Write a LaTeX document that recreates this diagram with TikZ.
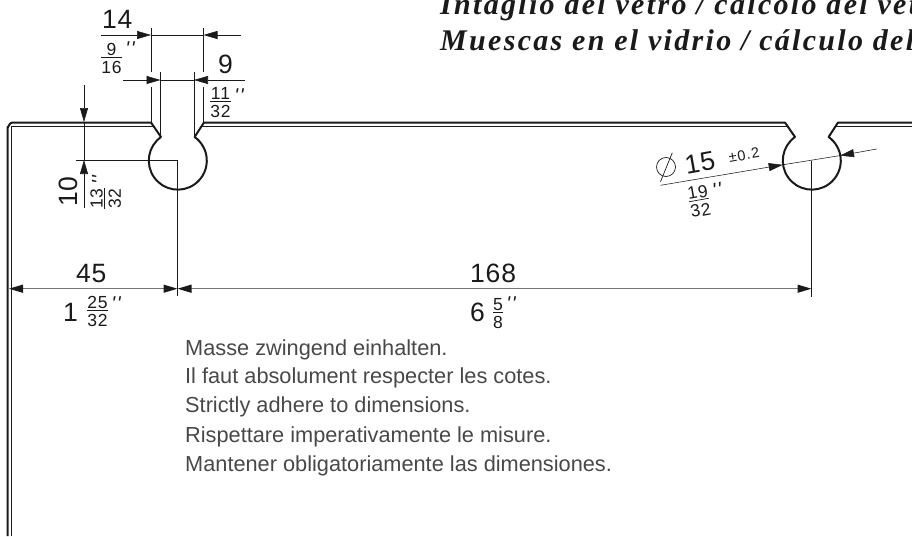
\documentclass[tikz,border=0pt]{standalone}
\usepackage{fontspec}
\usetikzlibrary{arrows.meta}
\setmainfont{Liberation Sans}
\newfontfamily\plainf{Liberation Sans}
\newfontfamily\titlef[LetterSpace=7.7]{Liberation Serif}
\definecolor{ink}{HTML}{1A1A1A}
\newcommand\fr[2]{{\renewcommand\arraystretch{0.3}\setlength\arrayrulewidth{0.7pt}\setlength\tabcolsep{0pt}\begin{tabular}{c}\rule{0pt}{15pt}#1\\\hline\rule{0pt}{16pt}#2\end{tabular}}}
\newcommand\primes{{\plainf\itshape\char"27\kern1.5pt\char"27}}
\tikzset{
 big/.style={font=\fontsize{26.5}{26.5}\selectfont,text=ink,inner sep=0pt},
 bigs/.style={font=\fontsize{26.5}{26.5}\selectfont\addfontfeature{LetterSpace=3},text=ink,inner sep=0pt},
 frac/.style={font=\fontsize{17.5}{17.5}\selectfont\addfontfeature{LetterSpace=5},text=ink,inner sep=0pt},
 prm/.style={font=\fontsize{20}{20}\selectfont,text=ink,inner sep=0pt},
 note/.style={font=\fontsize{21.75}{22}\selectfont,text=ink!80,anchor=base west,inner sep=0pt},
 titl/.style={font=\titlef\bfseries\itshape\fontsize{30}{30}\selectfont,text=ink,anchor=base west,inner sep=0pt},
 glass/.style={draw=ink,line width=2pt,line join=round},
 glassin/.style={draw=ink,line width=0.9pt},
 dim/.style={draw=ink,line width=0.55pt},
 dimh/.style={draw=ink!60,line width=1.2pt},
 edge/.style={draw=ink,line width=1pt},
 tip/.style={-{Triangle[length=14pt,width=8pt,color=ink]}},
}
\begin{document}
\begin{tikzpicture}[x=1pt,y=-1pt]
\useasboundingbox (0,0) rectangle (912,536);
\clip (0,0) rectangle (912,536);
% titles
\node[titl] (t1) at (440,14.5) {Intaglio del vetro / calcolo del vet};
\node[titl] (t2) at (440,50.5) {Muescas en el vidrio / cálculo del};
% glass outline
\coordinate (cA) at (177.5,160);
\coordinate (cB) at (811.5,160);
\draw[glass] (7.5,536) -- (7.5,127) to[out=-90,in=180] (12,122.5) -- (151,122.5) -- (161,137)
  arc[start angle=234.6,end angle=-54.6,radius=29] -- (204,122.5) -- (785,122.5) -- (795,137)
  arc[start angle=234.6,end angle=-54.6,radius=29] -- (838,122.5) -- (912,122.5);
\draw[glassin] (11.5,536) -- (11.5,126) -- (153.4,126);
\draw[glassin] (201.6,126) -- (787.3,126);
\draw[glassin] (835.7,126) -- (912,126);
% extension lines
\coordinate (e14a) at (151,28); \coordinate (e14b) at (151,72);
\coordinate (e14c) at (151,87); \coordinate (e14d) at (151,122);
\coordinate (e14e) at (203.5,28); \coordinate (e14f) at (203.5,72);
\coordinate (e14g) at (203.5,87); \coordinate (e14h) at (203.5,122);
\draw[dim] (e14a) -- (e14b); \draw[dim] (e14c) -- (e14d);
\draw[dim] (e14e) -- (e14f); \draw[dim] (e14g) -- (e14h);
\coordinate (e9a) at (160.5,72); \coordinate (e9b) at (160.5,137);
\coordinate (e9c) at (194,72); \coordinate (e9d) at (194,137);
\draw[edge] (e9a) -- (e9b); \draw[edge] (e9c) -- (e9d);
% dim 14
\coordinate (d14l) at (101,35); \coordinate (d14a) at (151,35);
\coordinate (d14b) at (203.5,35); \coordinate (d14r) at (241,35);
\draw[dim,tip] (d14l) -- (d14a); \draw[dim] (d14a) -- (d14b); \draw[dim,tip] (d14r) -- (d14b);
\node[bigs,anchor=base west] (n14) at (102,28) {14};
\node[frac] (f916) at (111.5,57.5) {\fr{9}{16}};
\node[prm] (p916) at (130,49) {\primes};
% dim 9
\coordinate (d9l) at (123,80); \coordinate (d9a) at (160.5,80);
\coordinate (d9b) at (194,80); \coordinate (d9r) at (245,80);
\draw[dim,tip] (d9l) -- (d9a); \draw[dim] (d9a) -- (d9b); \draw[dim,tip] (d9r) -- (d9b);
\node[big,anchor=base west] (n9) at (218,73) {9};
\node[frac] (f1132) at (220.5,102) {\fr{11}{32}};
\node[prm] (p1132) at (239,96) {\primes};
% dim 10
\coordinate (d10t) at (84,85); \coordinate (d10a) at (84,122);
\coordinate (d10b) at (84,160); \coordinate (d10e) at (84,208);
\coordinate (h10l) at (76,160); \coordinate (h10r) at (177.5,160);
\coordinate (v45b) at (177.5,296);
\draw[dim,tip] (d10t) -- (d10a); \draw[dim] (d10a) -- (d10b); \draw[dim,tip] (d10e) -- (d10b);
\draw[dim] (h10l) -- (h10r); \draw[dim] (h10r) -- (v45b);
\node[bigs,rotate=90,anchor=base west] (n10) at (77,207) {10};
\node[frac,rotate=90] (f1332) at (105,198.5) {\fr{13}{32}};
\node[prm,rotate=90] (p1332) at (99,180) {\primes};
% dim 45 / 168
\coordinate (d45l) at (9,288.7); \coordinate (d45m) at (177.5,288.7); \coordinate (d45r) at (811.5,288.7);
\coordinate (v168t) at (811.5,160.5); \coordinate (v168b) at (811.5,297);
\draw[dimh,{Triangle[length=14pt,width=8pt,color=ink]}-{Triangle[length=14pt,width=8pt,color=ink]}] (d45l) -- (d45m);
\draw[dimh,{Triangle[length=14pt,width=8pt,color=ink]}-{Triangle[length=14pt,width=8pt,color=ink]}] (d45m) -- (d45r);
\draw[dim] (v168t) -- (v168b);
\node[bigs,anchor=base west] (n45) at (76,282) {45};
\node[big,anchor=base west] (n1) at (63,321) {1};
\node[frac] (f2532) at (97.5,311) {\fr{25}{32}};
\node[prm] (p2532) at (116,304) {\primes};
\node[bigs,anchor=base west] (n168) at (470,282) {168};
\node[big,anchor=base west] (n6) at (470,321) {6};
\node[frac] (f58) at (498,313) {\fr{5}{8}};
\node[prm] (p58) at (511,304) {\primes};
% diameter
\coordinate (dl) at (660.5,185.3); \coordinate (da) at (782.7,164.8);
\coordinate (db) at (840,155.6); \coordinate (dr) at (876.7,149);
\draw[dim,tip] (dl) -- (da); \draw[dim] (da) -- (db); \draw[dim,tip] (dr) -- (db);
\coordinate (phc) at (666,167); \coordinate (pha) at (672.3,152.7); \coordinate (phb) at (660.5,181.7);
\draw[dim,line width=0.7pt] (phc) circle[radius=9.5];
\draw[dim,line width=0.7pt] (pha) -- (phb);
\node[bigs,rotate=10] (n15) at (700,163) {15};
\node[font=\fontsize{14.5}{14.5}\selectfont\addfontfeature{LetterSpace=6},text=ink,rotate=10,inner sep=0pt] (ntol) at (744,155) {±0.2};
\node[frac,rotate=10] (f1932) at (699,200.5) {\fr{19}{32}};
\node[prm,rotate=10] (p1932) at (717,190) {\primes};
% notes
\node[note] (l1) at (185,355) {Masse zwingend einhalten.};
\node[note] (l2) at (185,383.5) {Il faut absolument respecter les cotes.};
\node[note] (l3) at (185,412.5) {Strictly adhere to dimensions.};
\node[note] (l4) at (185,442) {Rispettare imperativamente le misure.};
\node[note] (l5) at (185,471.5) {Mantener obligatoriamente las dimensiones.};
\end{tikzpicture}
\end{document}
